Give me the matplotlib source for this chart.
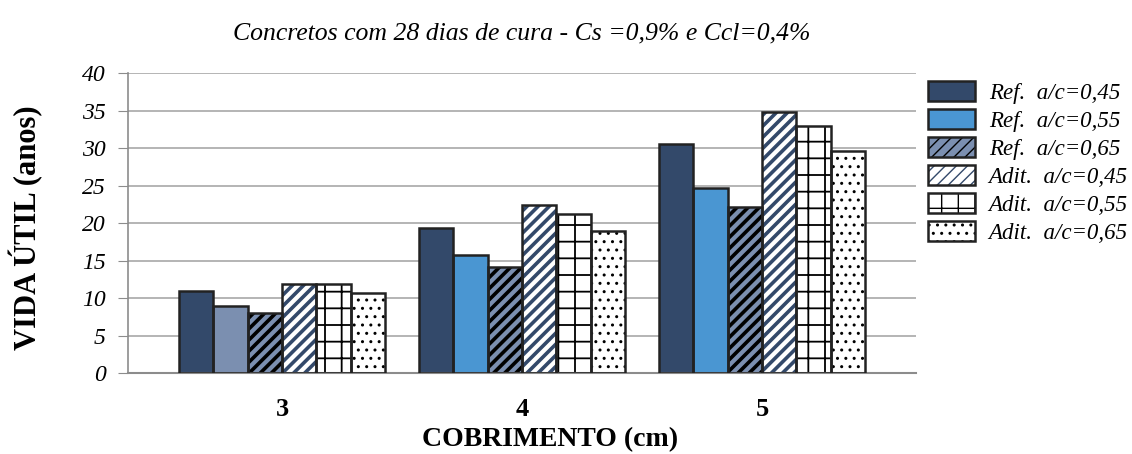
import matplotlib.pyplot as plt
import numpy as np
from matplotlib.patches import Patch
from matplotlib.legend_handler import HandlerTuple

plt.rcParams['font.family'] = ['Liberation Serif', 'DejaVu Serif']

cobrimento = ['3', '4', '5']
series = ['Ref.  a/c=0,45', 'Ref.  a/c=0,55', 'Ref.  a/c=0,65',
          'Adit.  a/c=0,45', 'Adit.  a/c=0,55', 'Adit.  a/c=0,65']
ref_045 = [11.0, 19.4, 30.5]
ref_055 = [8.9, 15.8, 24.7]
ref_065 = [8.0, 14.2, 22.1]
adit_045 = [11.9, 22.4, 34.8]
adit_055 = [11.9, 21.2, 33.0]
adit_065 = [10.7, 19.0, 29.6]
valores = [ref_045, ref_055, ref_065, adit_045, adit_055, adit_065]

navy = '#33496a'
azul = '#4a96d2'
cinza_azul = '#7b8fb0'
borda = '#222222'

# (face, hatch, hatch colour, hatch linewidth) per series
estilos = [
    (navy, None, navy, 1.0),
    (azul, None, azul, 1.0),
    (cinza_azul, '///', 'black', 2.6),
    ('white', '///', navy, 2.6),
    ('white', '+', 'black', 1.3),
    ('white', '..', 'black', 1.0),
]
# the 0,55 reference bar at 3 cm is drawn in grey-blue
cores_055 = [cinza_azul, azul, azul]

fig = plt.figure(figsize=(11.32, 4.54), dpi=100)
ax = fig.add_axes([0.1131, 0.1784, 0.6961, 0.6608])

x = np.arange(len(cobrimento))
w = 0.1433
handles = []
for i, (vals, (face, hatch, hcol, hlw)) in enumerate(zip(valores, estilos)):
    pos = x + (i - 2.5) * w
    faces = cores_055 if i == 1 else face
    with plt.rc_context({'hatch.linewidth': hlw, 'hatch.color': hcol}):
        ax.bar(pos, vals, w, color=faces, hatch=hatch, edgecolor=hcol,
               linewidth=0, zorder=2)
        h1 = Patch(facecolor=face, hatch=hatch, edgecolor=hcol, linewidth=0)
    ax.bar(pos, vals, w, fill=False, edgecolor=borda, linewidth=1.8, zorder=3)
    h2 = Patch(fill=False, edgecolor=borda, linewidth=1.8)
    handles.append((h1, h2))

ax.set_xlim(-0.642, 2.642)
ax.set_ylim(0, 40)
ax.set_yticks(range(0, 41, 5))
ax.set_xticks(x)
ax.set_xticklabels(cobrimento, fontsize=19, fontweight='bold')
for t in ax.get_yticklabels():
    t.set_fontstyle('italic')
    t.set_fontsize(17)
ax.tick_params(axis='x', length=0, pad=18)
ax.tick_params(axis='y', length=7, color='#8c8c8c', pad=9)
ax.yaxis.grid(True, color='#a8a8a8', linewidth=1.2, zorder=0)
ax.set_axisbelow(True)
for s in ['top', 'right']:
    ax.spines[s].set_visible(False)
ax.spines['left'].set_color('#8c8c8c')
ax.spines['bottom'].set_color('#8c8c8c')
ax.spines['left'].set_linewidth(1.2)
ax.spines['bottom'].set_linewidth(1.5)

ax.set_xlabel('COBRIMENTO (cm)', fontsize=20, fontweight='bold')
ax.xaxis.set_label_coords(0.535, -0.18)
ax.set_ylabel('VIDA ÚTIL (anos)', fontsize=22, fontweight='bold')
ax.yaxis.set_label_coords(-0.108, 0.483)
ax.set_title('Concretos com 28 dias de cura - Cs =0,9% e Ccl=0,4%',
             fontsize=18.5, fontstyle='italic', pad=24)

leg = fig.legend(handles, series, loc='upper left',
                 bbox_to_anchor=(0.8198, 0.822), frameon=False,
                 borderpad=0, borderaxespad=0,
                 handler_map={tuple: HandlerTuple(ndivide=1, pad=0)},
                 prop={'style': 'italic', 'size': 16.5},
                 handlelength=2.05, handleheight=0.96, labelspacing=0.23,
                 handletextpad=0.6)

fig.savefig('out.png', dpi=100)
